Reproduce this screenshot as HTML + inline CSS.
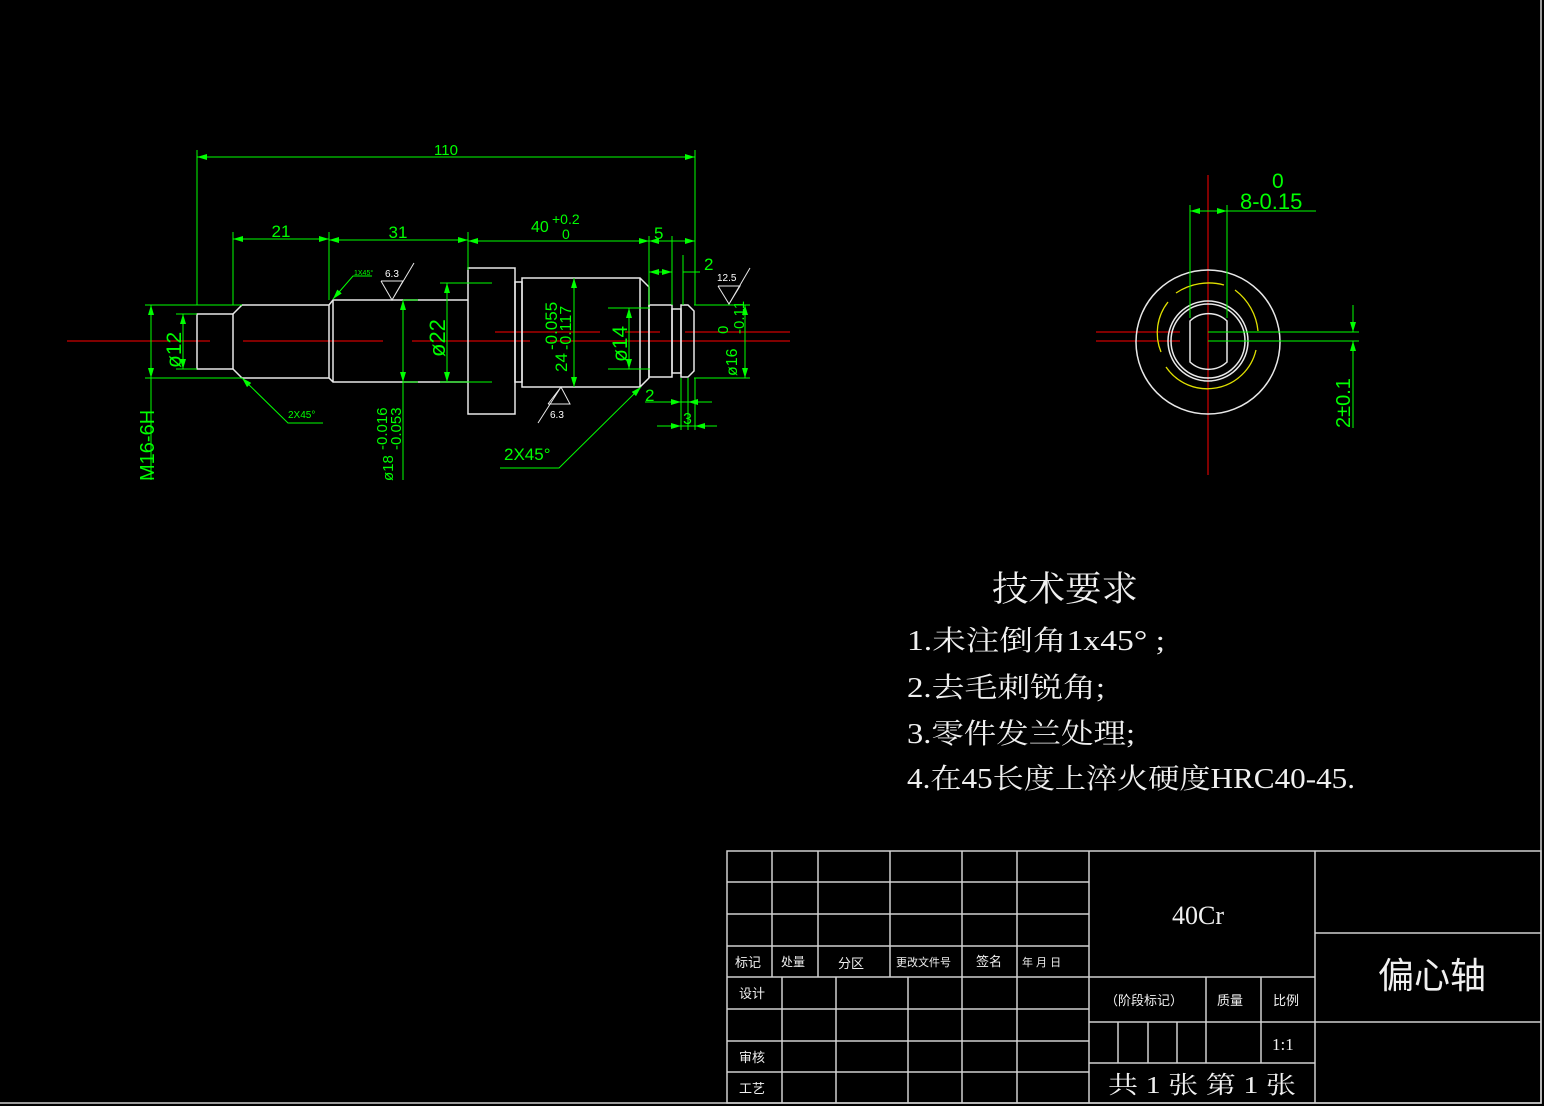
<!DOCTYPE html>
<html><head><meta charset="utf-8"><style>
html,body{margin:0;padding:0;background:#000;}
svg{display:block}
.w{stroke:#e8e8e8;stroke-width:1.5;fill:none}
.g{stroke:#00ff00;stroke-width:1;fill:none}
.r{stroke:#ff0000;stroke-width:1;fill:none}
.y{stroke:#e0e000;stroke-width:1.3;fill:none}
.gt{fill:#00ff00;font-family:"Liberation Sans",sans-serif}
.wt{fill:#f0f0f0;font-family:"Liberation Serif","Noto Serif CJK SC",serif}
.tb{stroke:#d0d0d0;stroke-width:1.5;fill:none}
.tt{fill:#f0f0f0;font-family:"Liberation Sans","Noto Sans CJK SC",sans-serif;font-size:13px}
</style></head><body>
<svg width="1544" height="1106" viewBox="0 0 1544 1106" xmlns="http://www.w3.org/2000/svg">
<defs>
<marker id="a" viewBox="0 0 10 6" refX="10" refY="3" markerWidth="10" markerHeight="6" orient="auto-start-reverse" markerUnits="userSpaceOnUse"><path d="M0,0 L10,3 L0,6z" fill="#00ff00"/></marker>
</defs>
<rect width="1544" height="1106" fill="#000"/>
<path d="M1541,0 V1103 H0" class="tb"/>

<path d="M67,341 H210 M243,341 H383 M412,341 H530 M550,341 H790" class="r"/>
<path d="M495,332 H600 M625,332 H660 M685,332 H790" class="r"/>

<g class="w">
<rect x="197" y="314" width="36" height="55"/>
<path d="M233,314 L242,305 H329 L333,300 H468 M329,305 V378 M233,369 L242,378 H329 L333,382 H468 M333,300 V382"/>
<rect x="468" y="268" width="47" height="146"/>
<rect x="515" y="282" width="7" height="100"/>
<path d="M522,278 H640 L649,287 V378 L640,387 H522 Z M640,278 V387"/>
<rect x="649" y="305" width="23" height="72"/>
<rect x="672" y="309" width="9" height="64"/>
<path d="M681,305 H688 L694,311 V371 L688,377 H681 Z"/>
</g>

<g class="g">
<path d="M197,150 V305 M695,150 V305"/>
<path d="M197,157 H695" marker-start="url(#a)" marker-end="url(#a)"/>
<path d="M233,232 V305 M329,232 V300 M468,232 V270 M649,236 V305 M672,236 V305"/>
<path d="M233,239 H329" marker-start="url(#a)" marker-end="url(#a)"/>
<path d="M329,240 H468" marker-start="url(#a)" marker-end="url(#a)"/>
<path d="M468,241 H649" marker-start="url(#a)" marker-end="url(#a)"/>
<path d="M649,241 H695" marker-start="url(#a)" marker-end="url(#a)"/>
<path d="M683,272 H700 M649,272 H672" marker-end="url(#a)"/>
<path d="M649,272 H672" marker-start="url(#a)"/>
<path d="M683,255 V305"/>
<path d="M145,305 H242 M145,378 H242 M176,314 H197 M176,369 H197"/>
<path d="M151,305 V480"/>
<path d="M151,305 V378" marker-start="url(#a)" marker-end="url(#a)"/>
<path d="M183,314 V369" marker-start="url(#a)" marker-end="url(#a)"/>
<path d="M403,382 V480"/>
<path d="M403,300 V382" marker-start="url(#a)" marker-end="url(#a)"/>
<path d="M403,300 H418 M403,382 H418 M440,283 H492 M440,382 H492"/>
<path d="M447,283 V382" marker-start="url(#a)" marker-end="url(#a)"/>
<path d="M574,278 V387" marker-start="url(#a)" marker-end="url(#a)"/>
<path d="M608,308 H650 M608,369 H650"/>
<path d="M629,308 V369" marker-start="url(#a)" marker-end="url(#a)"/>
<path d="M694,305 H750 M694,378 H750"/>
<path d="M745,305 V378" marker-start="url(#a)" marker-end="url(#a)"/>
<path d="M323,423 H288 L242,378" marker-end="url(#a)"/>
<path d="M372,276 H353 L333,299" marker-end="url(#a)"/>
<path d="M500,468 H559 L641,387" marker-end="url(#a)"/>
<path d="M681,378 V430 M688,378 V430 M695,378 V430"/>
<path d="M645,402 H712"/>
<path d="M660,402 H681" marker-end="url(#a)"/>
<path d="M712,402 H688" marker-end="url(#a)"/>
<path d="M657,426 H717"/>
<path d="M665,426 H681" marker-end="url(#a)"/>
<path d="M712,426 H695" marker-end="url(#a)"/>
</g>
<g stroke="#e8e8e8" stroke-width="1" fill="none">
<path d="M381,281 H403 L392,300 L381,281 M392,300 L414,263"/>
<path d="M548,404 H570 L561,387 L548,404 M561,387 L538,423"/>
<path d="M718,286 H740 L729,304 L718,286 M729,304 L750,268"/>
</g>
<g font-family="Liberation Sans,sans-serif" font-size="10" fill="#fff">
<text x="385" y="277">6.3</text>
<text x="550" y="418">6.3</text>
<text x="717" y="281">12.5</text>
</g>
<g class="gt">
<text x="446" y="155" font-size="15" text-anchor="middle">110</text>
<text x="281" y="237" font-size="17" text-anchor="middle">21</text>
<text x="398" y="238" font-size="17" text-anchor="middle">31</text>
<text x="531" y="232" font-size="16">40</text>
<text x="552" y="224" font-size="14">+0.2</text>
<text x="562" y="239" font-size="14">0</text>
<text x="654" y="239" font-size="17">5</text>
<text x="704" y="270" font-size="17">2</text>
<text x="354" y="275" font-size="7">1X45°</text>
<text x="288" y="418" font-size="10">2X45°</text>
<text x="504" y="460" font-size="17">2X45°</text>
<text x="645" y="401" font-size="17">2</text>
<text x="683" y="424" font-size="16">3</text>
<text transform="translate(154,481) rotate(-90)" font-size="20">M16-6H</text>
<text transform="translate(181,368) rotate(-90)" font-size="21">ø12</text>
<text transform="translate(445,357) rotate(-90)" font-size="22">ø22</text>
<text transform="translate(627,362) rotate(-90)" font-size="21">ø14</text>
<text transform="translate(393,481) rotate(-90)" font-size="15">ø18</text>
<text transform="translate(387,450) rotate(-90)" font-size="15">-0.016</text>
<text transform="translate(401,450) rotate(-90)" font-size="15">-0.053</text>
<text transform="translate(567,372) rotate(-90)" font-size="17">24</text>
<text transform="translate(557,350) rotate(-90)" font-size="17">-0.055</text>
<text transform="translate(571,350) rotate(-90)" font-size="16">-0.117</text>
<text transform="translate(737,376) rotate(-90)" font-size="16">ø16</text>
<text transform="translate(728,334) rotate(-90)" font-size="15">0</text>
<text transform="translate(744,334) rotate(-90)" font-size="15">-0.11</text>
</g>

<path d="M1208,175 V475" class="r"/>
<path d="M1096,332 H1180 M1096,341 H1180" class="r"/>
<g class="w" stroke-width="1.3">
<circle cx="1208" cy="342" r="72"/>
<circle cx="1208" cy="341" r="40"/>
<circle cx="1208" cy="341" r="37"/>
<path d="M1190,321 A27,27 0 0 1 1227,321 V362 A27,27 0 0 1 1190,362 Z"/>
</g>
<g class="y">
<path d="M1176,293 A58,58 0 0 1 1224,285"/>
<path d="M1235,290 A58,58 0 0 1 1258,331"/>
<path d="M1256,350 A50,50 0 0 1 1166,367"/>
<path d="M1161,352 A50,50 0 0 1 1168,302"/>
</g>
<g class="g">
<path d="M1190,205 V318 M1227,205 V318"/>
<path d="M1227,211 H1316"/>
<path d="M1190,211 H1227" marker-start="url(#a)" marker-end="url(#a)"/>
<path d="M1208,332 H1359 M1208,341 H1359"/>
<path d="M1353,305 V332" marker-end="url(#a)"/>
<path d="M1353,428 V341" marker-end="url(#a)"/>
</g>
<g class="gt">
<text x="1272" y="188" font-size="21">0</text>
<text x="1240" y="209" font-size="22">8-0.15</text>
<text transform="translate(1350,428) rotate(-90)" font-size="20">2±0.1</text>
</g>

<g class="wt">
<text x="992" y="601" font-size="35" textLength="146" lengthAdjust="spacingAndGlyphs">技术要求</text>
<text x="907" y="650" font-size="28" textLength="258" lengthAdjust="spacingAndGlyphs">1.未注倒角1x45° ;</text>
<text x="907" y="697" font-size="28" textLength="198" lengthAdjust="spacingAndGlyphs">2.去毛刺锐角;</text>
<text x="907" y="743" font-size="28" textLength="228" lengthAdjust="spacingAndGlyphs">3.零件发兰处理;</text>
<text x="907" y="788" font-size="28" textLength="448" lengthAdjust="spacingAndGlyphs">4.在45长度上淬火硬度HRC40-45.</text>
</g>

<g class="tb">
<rect x="727" y="851" width="814" height="252"/>
<path d="M727,882 H1089 M727,914 H1089 M727,946 H1089 M727,977 H1315 M727,1009 H1089 M727,1041 H1089 M727,1072 H1089"/>
<path d="M772,851 V977 M818,851 V977 M890,851 V977 M962,851 V1103 M1017,851 V1103 M1089,851 V1103"/>
<path d="M782,977 V1103 M836,977 V1103 M908,977 V1103"/>
<path d="M1089,1022 H1315 M1089,1063 H1315 M1206,977 V1063 M1261,977 V1063 M1118,1022 V1063 M1148,1022 V1063 M1177,1022 V1063"/>
<path d="M1315,851 V1103 M1315,933 H1541 M1315,1022 H1541"/>
</g>
<g class="tt">
<text x="735" y="967">标记</text>
<text x="781" y="966" font-size="12">处量</text>
<text x="838" y="968">分区</text>
<text x="896" y="966" font-size="11">更改文件号</text>
<text x="976" y="966">签名</text>
<text x="1022" y="966" font-size="11">年  月  日</text>
<text x="739" y="998">设计</text>
<text x="739" y="1062">审核</text>
<text x="739" y="1093">工艺</text>
<text x="1105" y="1005">（阶段标记）</text>
<text x="1217" y="1005">质量</text>
<text x="1273" y="1005">比例</text>
</g>
<g class="wt">
<text x="1172" y="924" font-size="26">40Cr</text>
<text x="1272" y="1050" font-size="17">1:1</text>
<text x="1108" y="1093" font-size="24" textLength="188" lengthAdjust="spacingAndGlyphs">共 1 张 第 1 张</text>
<text x="1378" y="988" font-size="36" font-family="Liberation Sans,Noto Sans CJK SC,sans-serif">偏心轴</text>
</g>
</svg>
</body></html>
